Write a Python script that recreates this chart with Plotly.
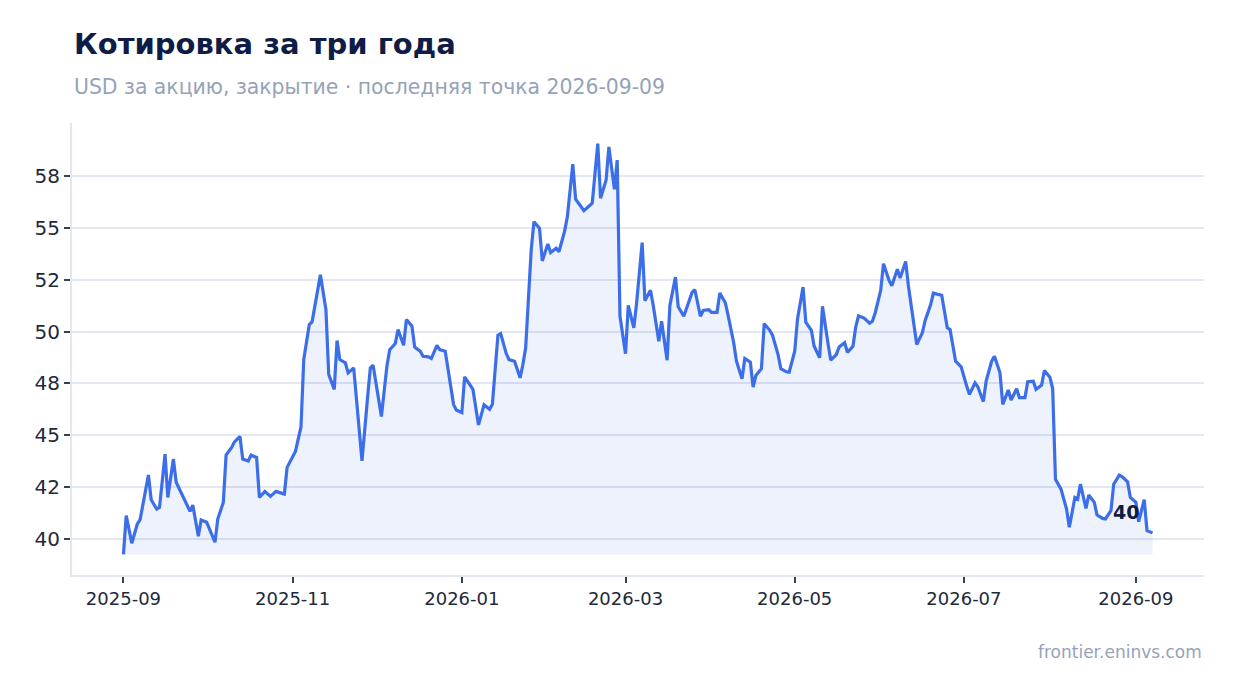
import pandas as pd
import plotly.graph_objects as go

# Quote over the period: day offset from start and close price
start_date = "2025-09-01"

day_offsets = [
    0, 1, 3, 5, 6, 9, 10, 12, 13, 15, 16, 18, 19, 21, 22, 24, 25, 27, 28, 30,
    33, 34, 36, 37, 39, 40, 42, 43, 45, 46, 48, 49, 51, 53, 55, 58, 59, 62,
    64, 65, 67, 68, 71, 73, 74, 76, 77, 78, 80, 81, 83, 85, 86, 88, 89, 90,
    92, 93, 95, 96, 98, 99, 101, 102, 104, 105, 107, 108, 110, 111, 113, 114, 116,
    119, 120, 122, 123, 124, 126, 128, 129, 130, 132, 133, 135, 136, 138, 139,
    141, 143, 144, 145, 147, 148, 150, 151, 153, 154, 156, 157, 159, 160, 162,
    163, 165, 166, 169, 171, 172, 174, 175, 177, 178, 179, 181, 182, 184, 185,
    187, 188, 190, 191, 193, 194, 196, 197, 199, 200, 202, 205, 206, 208, 209,
    211, 212, 214, 215, 217, 218, 220, 221, 223, 224, 226, 227, 228, 230, 231,
    233, 234, 236, 237, 239, 240, 242, 243, 245, 246, 248, 249, 251, 252, 254,
    255, 257, 258, 260, 261, 263, 264, 265, 267, 269, 270, 271, 273, 274, 276,
    277, 279, 280, 282, 283, 285, 286, 288, 289, 291, 292, 294, 295, 297, 298,
    300, 301, 302, 304, 305, 307, 308, 310, 311, 313, 314, 316, 317, 319, 320,
    322, 323, 325, 326, 328, 329, 331, 332, 334, 335, 336, 338, 340, 341, 343,
    344, 345, 347, 348, 350, 351, 353, 354, 356, 357, 359, 360, 362, 363, 365,
    366, 368, 369, 371,
]

prices = [
    39.25, 41.12, 39.79, 40.72, 40.93, 43.08, 41.89, 41.44, 41.52, 44.09, 42.00, 43.85, 42.73, 42.16, 41.96, 41.33, 41.63, 40.13, 40.91, 40.80,
    39.84, 40.96, 41.76, 44.04, 44.41, 44.68, 44.94, 43.85, 43.76, 44.04, 43.93, 42.00, 42.29, 42.05, 42.29, 42.16, 43.45, 44.22,
    45.40, 48.65, 50.34, 50.47, 52.74, 51.06, 47.93, 47.21, 49.57, 48.65, 48.49, 48.01, 48.25, 45.45, 43.76, 46.81, 48.25, 48.38,
    46.57, 45.90, 48.37, 49.13, 49.42, 50.10, 49.34, 50.58, 50.26, 49.25, 49.05, 48.81, 48.78, 48.70, 49.33, 49.13, 49.05,
    46.49, 46.22, 46.09, 47.82, 47.61, 47.21, 45.50, 46.01, 46.47, 46.25, 46.49, 49.82, 49.90, 48.94, 48.65,
    48.57, 47.77, 48.41, 49.22, 53.94, 55.30, 54.98, 53.41, 54.23, 53.81, 54.02, 53.85, 54.82, 55.51, 58.08,
    56.39, 56.02, 55.83, 56.19, 59.07, 56.43, 57.31, 58.91, 56.86, 58.27, 50.74, 48.93, 51.26, 50.18, 51.38,
    54.29, 51.49, 51.99, 51.26, 49.53, 50.50, 48.62, 51.26, 52.63, 51.20, 50.74, 51.89, 52.02, 50.74, 51.02,
    51.06, 50.93, 50.93, 51.86, 51.38, 50.77, 49.46, 48.57, 47.72, 48.70, 48.52, 47.32, 47.88, 48.21, 50.38,
    50.06, 49.82, 48.89, 48.21, 48.06, 48.04, 49.05, 50.61, 52.15, 50.45, 50.06, 49.29, 48.74, 51.22, 49.42,
    48.62, 48.89, 49.26, 49.46, 49.00, 49.29, 50.23, 50.76, 50.65, 50.40, 50.50, 50.90, 51.99, 53.27, 52.47,
    52.21, 53.01, 52.58, 53.38, 52.18, 50.18, 49.38, 49.94, 50.53, 51.30, 51.86, 51.78, 51.75, 50.18, 50.10,
    48.57, 48.41, 48.30, 47.37, 46.97, 47.53, 47.34, 46.62, 47.61, 48.57, 48.81, 48.01, 46.49, 47.18, 46.70,
    47.24, 46.81, 46.81, 47.58, 47.61, 47.21, 47.42, 48.12, 47.80, 47.24, 42.88, 42.40, 41.44, 40.56, 42.00,
    41.92, 42.64, 41.47, 42.12, 41.76, 41.15, 40.99, 40.96, 41.36, 42.64, 43.08, 43.01, 42.75, 42.00, 41.76,
    40.83, 41.89, 40.40, 40.29,
]

y_ticks = [40, 42.5, 45, 47.5, 50, 52.5, 55, 57.5]

title = "Котировка за три года"
subtitle = "USD за акцию, закрытие · последняя точка 2026-09-09"
source = "frontier.eninvs.com"

dates = pd.to_datetime(start_date) + pd.to_timedelta(day_offsets, unit="D")
base = min(prices)

FONT = "DejaVu Sans"
LINE = "#3b6ee8"
GRID = "#e3e7ef"

fig = go.Figure()

# baseline for the area fill
fig.add_trace(go.Scatter(x=dates, y=[base] * len(prices), mode="lines",
                         line=dict(width=0), hoverinfo="skip", showlegend=False))
fig.add_trace(go.Scatter(x=dates, y=prices, mode="lines",
                         line=dict(color=LINE, width=3.2),
                         fill="tonexty", fillcolor="rgba(59,110,232,0.09)",
                         showlegend=False))

# padding 5% on both axes
span_x = dates[-1] - dates[0]
x_range = [dates[0] - span_x * 0.05, dates[-1] + span_x * 0.05]
span_y = max(prices) - min(prices)
y_range = [min(prices) - span_y * 0.05, max(prices) + span_y * 0.05]

fig.update_layout(
    width=1234, height=693,
    margin=dict(l=64, r=38, t=115, b=126),
    paper_bgcolor="white", plot_bgcolor="white",
    font=dict(family=FONT, color="#1e293b"),
    showlegend=False,
)

fig.update_xaxes(
    type="date", range=x_range,
    tick0="2025-09-01", dtick="M2", tickformat="%Y-%m",
    showgrid=False, zeroline=False,
    showline=True, linecolor=GRID, linewidth=2,
    ticks="outside", ticklen=6, tickwidth=2, tickcolor="#334155",
    tickfont=dict(size=18, color="#1e293b"),
)
fig.update_yaxes(
    range=y_range,
    tickvals=y_ticks, ticktext=[f"{v:.0f}" for v in y_ticks],
    showgrid=True, gridcolor=GRID, gridwidth=1.5, zeroline=False,
    showline=True, linecolor=GRID, linewidth=2,
    ticks="outside", ticklen=6, tickwidth=2, tickcolor="#334155",
    tickfont=dict(size=20, color="#1e293b"),
)

fig.add_annotation(x=0, y=1.175, xref="paper", yref="paper",
                   text=f"<b>{title}</b>", showarrow=False,
                   xanchor="left", yanchor="middle",
                   font=dict(size=29, color="#0f1c45"))
fig.add_annotation(x=0, y=1.079, xref="paper", yref="paper",
                   text=subtitle, showarrow=False,
                   xanchor="left", yanchor="middle",
                   font=dict(size=20.4, color="#94a3b8"))
fig.add_annotation(x=1, y=-0.17, xref="paper", yref="paper",
                   text=source, showarrow=False,
                   xanchor="right", yanchor="middle",
                   font=dict(size=17, color="#94a3b8"))

# last value label
fig.add_annotation(x=dates[-1], y=prices[-1],
                   text=f"<b>{prices[-1]:.0f}</b>", showarrow=False,
                   xanchor="right", yanchor="middle", xshift=-12, yshift=21,
                   font=dict(size=19, color="#0f1c45"))

fig.write_html("out.html")
